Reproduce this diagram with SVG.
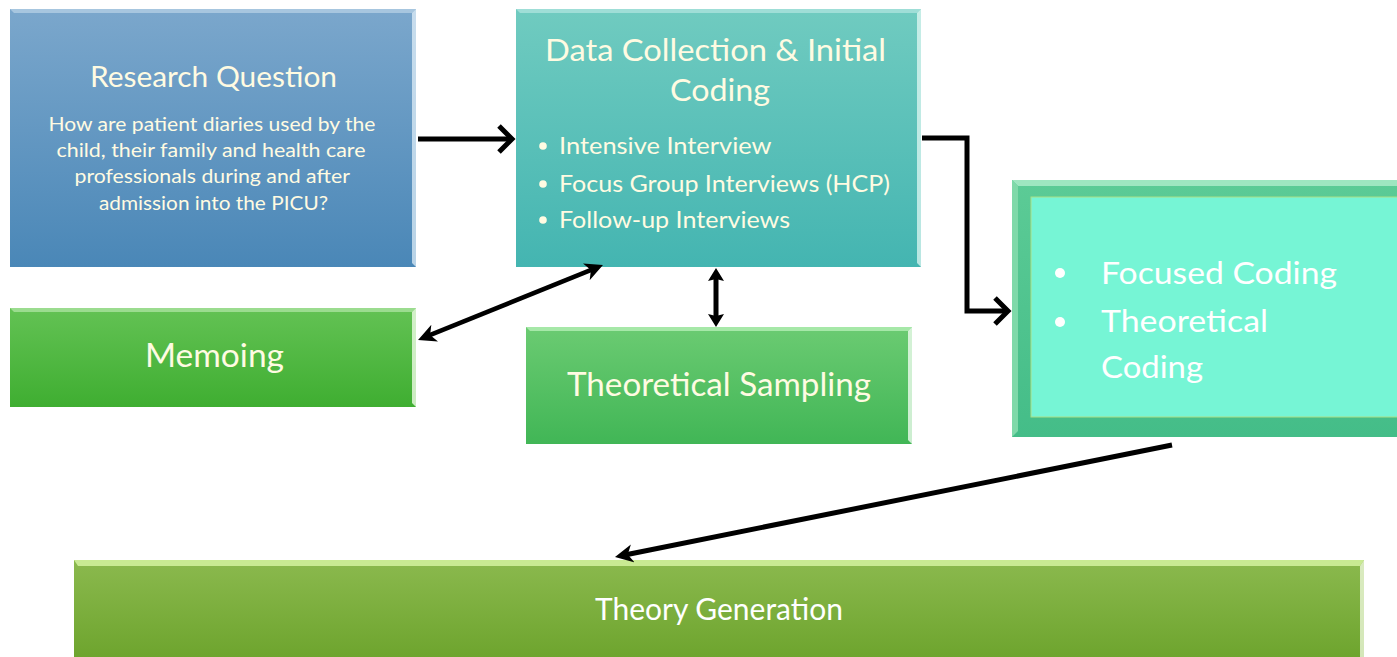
<svg xmlns="http://www.w3.org/2000/svg" width="1397" height="657" viewBox="0 0 1397 657">
  <defs>
    <linearGradient id="gBlue" x1="0" y1="0" x2="0" y2="1">
      <stop offset="0" stop-color="#7ba7cc"/>
      <stop offset="1" stop-color="#4a87b7"/>
    </linearGradient>
    <linearGradient id="gTeal" x1="0" y1="0" x2="0" y2="1">
      <stop offset="0" stop-color="#70cbc0"/>
      <stop offset="1" stop-color="#44b5b1"/>
    </linearGradient>
    <linearGradient id="gSea" x1="0" y1="0" x2="0" y2="1">
      <stop offset="0" stop-color="#5ccb96"/>
      <stop offset="1" stop-color="#44bd88"/>
    </linearGradient>
    <linearGradient id="gMemo" x1="0" y1="0" x2="0" y2="1">
      <stop offset="0" stop-color="#63c254"/>
      <stop offset="1" stop-color="#3fae31"/>
    </linearGradient>
    <linearGradient id="gSamp" x1="0" y1="0" x2="0" y2="1">
      <stop offset="0" stop-color="#6bcb72"/>
      <stop offset="1" stop-color="#41b656"/>
    </linearGradient>
    <linearGradient id="gOlive" x1="0" y1="0" x2="0" y2="1">
      <stop offset="0" stop-color="#8bb94e"/>
      <stop offset="1" stop-color="#6da42d"/>
    </linearGradient>
    <marker id="open" markerUnits="userSpaceOnUse" viewBox="-22 -18 28 36" refX="-2" refY="0" markerWidth="28" markerHeight="36" orient="auto">
      <path d="M-13,-13 L0,0 L-13,13" fill="none" stroke="#000" stroke-width="5"/>
    </marker>
    <marker id="stealth" markerUnits="userSpaceOnUse" viewBox="0 -10 20 20" refX="8" refY="0" markerWidth="20" markerHeight="20" orient="auto-start-reverse">
      <path d="M0,-9 L18,0 L0,9 L5,0 z" fill="#000"/>
    </marker>
    <marker id="stealthS" markerUnits="userSpaceOnUse" viewBox="0 -9 16 18" refX="6" refY="0" markerWidth="16" markerHeight="18" orient="auto-start-reverse">
      <path d="M0,-8 L13,0 L0,8 L2,0 z" fill="#000"/>
    </marker>
  </defs>
  <style>
    .ttl { font-family: Lato, "Liberation Sans", sans-serif; fill: #fffbe2; }
    .wht { font-family: Lato, "Liberation Sans", sans-serif; fill: #ffffff; }
    .conn { stroke: #000; fill: none; }
  </style>
  <rect width="1397" height="657" fill="#ffffff"/>

  <g id="research-question">
    <rect x="10" y="9" width="406" height="258" fill="url(#gBlue)"/>
    <path d="M10,9 H416 L412,13 H14 Z" fill="#a7c6df"/>
    <path d="M416,9 V267 L412,263 V13 Z" fill="#e8f4fb" opacity="0.7"/>
    <text class="ttl" x="213.5" y="87" font-size="29" text-anchor="middle" textLength="247" lengthAdjust="spacingAndGlyphs">Research Question</text>
    <text class="ttl" font-size="19.5" text-anchor="middle" lengthAdjust="spacingAndGlyphs">
      <tspan x="214.5" y="131" textLength="327" lengthAdjust="spacingAndGlyphs">How are patient diaries used by the</tspan>
      <tspan x="213.5" y="157" textLength="309" lengthAdjust="spacingAndGlyphs">child, their family and health care</tspan>
      <tspan x="214.5" y="183" textLength="275" lengthAdjust="spacingAndGlyphs">professionals during and after</tspan>
      <tspan x="213.5" y="210" textLength="229" lengthAdjust="spacingAndGlyphs">admission into the PICU?</tspan>
    </text>
  </g>

  <g id="data-collection">
    <rect x="516" y="9" width="405" height="258" fill="url(#gTeal)"/>
    <path d="M516,9 H921 L917,13 H520 Z" fill="#9fded7"/>
    <path d="M921,9 V267 L917,263 V13 Z" fill="#e9fbf7" opacity="0.7"/>
    <text class="ttl" font-size="31" text-anchor="middle">
      <tspan x="719.5" y="61" textLength="341" lengthAdjust="spacingAndGlyphs">Data Collection &amp; Initial</tspan>
      <tspan x="720" y="101" textLength="100" lengthAdjust="spacingAndGlyphs">Coding</tspan>
    </text>
    <circle cx="543" cy="146" r="3.8" fill="#fffbe2"/>
    <circle cx="543" cy="184" r="3.8" fill="#fffbe2"/>
    <circle cx="543" cy="220" r="3.8" fill="#fffbe2"/>
    <text class="ttl" font-size="23.5">
      <tspan x="559" y="154" textLength="212" lengthAdjust="spacingAndGlyphs">Intensive Interview</tspan>
      <tspan x="559" y="192" textLength="331" lengthAdjust="spacingAndGlyphs">Focus Group Interviews (HCP)</tspan>
      <tspan x="559" y="228" textLength="231" lengthAdjust="spacingAndGlyphs">Follow-up Interviews</tspan>
    </text>
  </g>

  <g id="focused-coding">
    <rect x="1012" y="180" width="400" height="257" fill="url(#gSea)"/>
    <path d="M1012,180 H1397 V186 H1018 Z" fill="#9ee6c0"/>
    <path d="M1012,180 L1018,186 V431 L1012,437 Z" fill="#7fd9a9"/>
    <rect x="1031" y="197" width="380" height="220" fill="#76f5d5" stroke="#a9df86" stroke-width="1"/>
    <circle cx="1060" cy="273" r="5" fill="#ffffff"/>
    <circle cx="1060" cy="322" r="5" fill="#ffffff"/>
    <text class="wht" font-size="31">
      <tspan x="1101" y="284" textLength="236" lengthAdjust="spacingAndGlyphs">Focused Coding</tspan>
      <tspan x="1101" y="332" textLength="167" lengthAdjust="spacingAndGlyphs">Theoretical</tspan>
      <tspan x="1101" y="378" textLength="102" lengthAdjust="spacingAndGlyphs">Coding</tspan>
    </text>
  </g>

  <g id="memoing">
    <rect x="10" y="308" width="406" height="99" fill="url(#gMemo)"/>
    <path d="M10,308 H416 L412,312 H14 Z" fill="#9bdc8f"/>
    <path d="M416,308 V407 L412,403 V312 Z" fill="#effbe6" opacity="0.8"/>
    <text class="ttl" x="214.5" y="367" font-size="32.5" text-anchor="middle" textLength="139" lengthAdjust="spacingAndGlyphs">Memoing</text>
  </g>

  <g id="theoretical-sampling">
    <rect x="526" y="327" width="386" height="117" fill="url(#gSamp)"/>
    <path d="M526,327 H912 L908,331 H530 Z" fill="#a6e8a8"/>
    <path d="M912,327 V444 L908,440 V331 Z" fill="#effbef" opacity="0.8"/>
    <text class="ttl" x="719" y="396" font-size="32.5" text-anchor="middle" textLength="304" lengthAdjust="spacingAndGlyphs">Theoretical Sampling</text>
  </g>

  <g id="theory-generation">
    <rect x="74" y="560" width="1290" height="100" fill="url(#gOlive)"/>
    <path d="M74,560 H1364 L1360,566 H78 Z" fill="#c9ea93"/>
    <path d="M1364,560 V657 H1360 V566 Z" fill="#eef8dc" opacity="0.8"/>
    <text class="wht" x="719" y="620" font-size="30" text-anchor="middle" textLength="248" lengthAdjust="spacingAndGlyphs">Theory Generation</text>
  </g>

  <g id="connectors" class="conn">
    <path d="M418,139 H510" stroke-width="5" marker-end="url(#open)"/>
    <path d="M922,138 H967 V311 H1006" stroke-width="5" stroke-linejoin="miter" marker-end="url(#open)"/>
    <path d="M427.3,336.2 L593.7,268.8" stroke-width="4.5" marker-start="url(#stealth)" marker-end="url(#stealth)"/>
    <path d="M716,275 V320" stroke-width="5" marker-start="url(#stealthS)" marker-end="url(#stealthS)"/>
    <path d="M1172,445 L624.8,555" stroke-width="5" marker-end="url(#stealth)"/>
  </g>
</svg>
